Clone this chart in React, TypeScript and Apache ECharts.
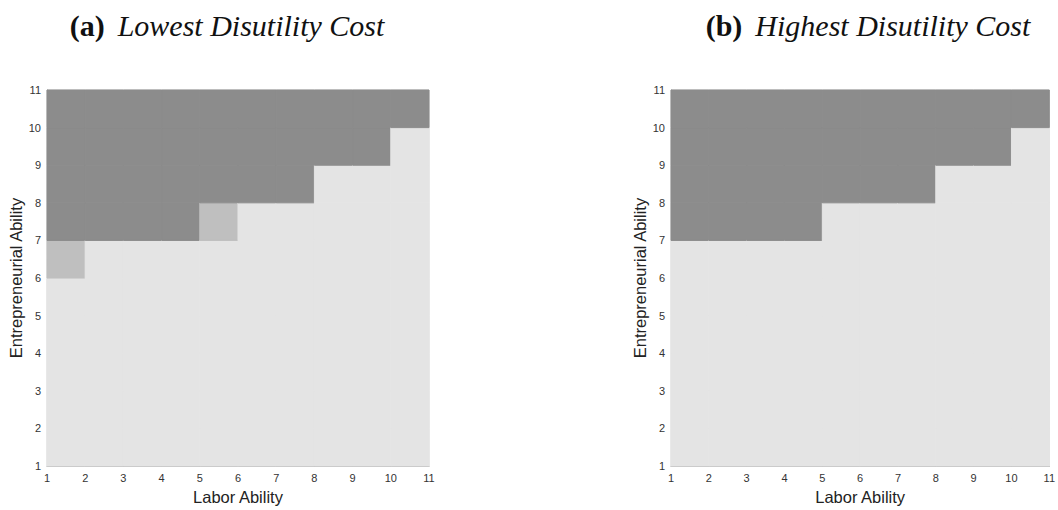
import React, { useEffect, useRef } from "react";
import * as echarts from "echarts";

// Ability grid: cells span [k, k+1] for k = 1..10 on both axes.
const abilityCells = [1, 2, 3, 4, 5, 6, 7, 8, 9, 10];

// Lowest entrepreneurial ability (per labor-ability column) at which the dark regime starts.
const darkFloorLowest = [7, 7, 7, 7, 8, 8, 8, 9, 9, 10];
const darkFloorHighest = [7, 7, 7, 7, 8, 8, 8, 9, 9, 10];

// Cells in the intermediate regime: [labor ability, entrepreneurial ability].
const mixedCellsLowest: [number, number][] = [
  [1, 6],
  [5, 7],
];
const mixedCellsHighest: [number, number][] = [];

const titlesA = { tag: "(a)", text: "Lowest Disutility Cost" };
const titlesB = { tag: "(b)", text: "Highest Disutility Cost" };

const regimeColors = ["#e4e4e4", "#bfbfbf", "#8c8c8c"];

function buildCells(floor: number[], mixed: [number, number][]) {
  const out: number[][] = [];
  abilityCells.forEach((x, i) => {
    abilityCells.forEach((y) => {
      let regime = y >= floor[i] ? 2 : 0;
      if (mixed.some(([mx, my]) => mx === x && my === y)) regime = 1;
      out.push([x, y, regime]);
    });
  });
  return out;
}

const sansFont = "Liberation Sans, Arial, Helvetica, sans-serif";
const serifFont = "Liberation Serif, Times New Roman, serif";

function axisPair(idx: number) {
  const common = {
    type: "value" as const,
    gridIndex: idx,
    min: 1,
    max: 11,
    interval: 1,
    splitLine: { show: false },
    axisTick: { show: false },
    axisLine: { show: true, onZero: false, lineStyle: { color: "#a6a6a6", width: 1 } },
    axisLabel: { fontSize: 11, color: "#333", fontFamily: sansFont },
    nameLocation: "middle" as const,
    nameTextStyle: { fontSize: 16.5, color: "#222", fontFamily: sansFont },
  };
  return {
    x: { ...common, name: "Labor Ability", nameGap: 21, axisLabel: { ...common.axisLabel, margin: 6 } },
    y: { ...common, name: "Entrepreneurial Ability", nameGap: 21, axisLabel: { ...common.axisLabel, margin: 6 } },
  };
}

function renderCell(_params: any, api: any) {
  const x = api.value(0);
  const y = api.value(1);
  const p0 = api.coord([x, y + 1]);
  const p1 = api.coord([x + 1, y]);
  const fill = regimeColors[api.value(2)];
  return {
    type: "rect",
    shape: { x: p0[0], y: p0[1], width: p1[0] - p0[0], height: p1[1] - p0[1] },
    style: { fill, stroke: fill, lineWidth: 1 },
  };
}

export default function App() {
  const ref = useRef<HTMLDivElement>(null);

  useEffect(() => {
    document.body.style.margin = "0";
    if (!ref.current) return;
    const chart = echarts.init(ref.current, undefined, { renderer: "svg" });
    const a = axisPair(0);
    const b = axisPair(1);
    const titleRich = {
      tag: { fontFamily: serifFont, fontWeight: "bold" as const, fontStyle: "normal" as const, fontSize: 30, color: "#111", padding: [0, 8, 0, 0] },
      txt: { fontFamily: serifFont, fontWeight: "normal" as const, fontStyle: "italic" as const, fontSize: 30, color: "#111" },
    };
    chart.setOption({
      animation: false,
      backgroundColor: "#fff",
      title: [
        {
          text: `{tag|${titlesA.tag}} {txt|${titlesA.text}}`,
          left: 222,
          top: 5,
          textAlign: "center",
          textStyle: { fontWeight: "normal", rich: titleRich },
        },
        {
          text: `{tag|${titlesB.tag}} {txt|${titlesB.text}}`,
          left: 863,
          top: 5,
          textAlign: "center",
          textStyle: { fontWeight: "normal", rich: titleRich },
        },
      ],
      grid: [
        { left: 47, top: 90, width: 382, height: 382, show: true, borderColor: "#dcdcdc", borderWidth: 1, backgroundColor: "transparent" },
        { left: 671, top: 90, width: 381, height: 382, show: true, borderColor: "#dcdcdc", borderWidth: 1, backgroundColor: "transparent" },
      ],
      xAxis: [a.x, b.x],
      yAxis: [a.y, b.y],
      series: [
        {
          type: "custom",
          xAxisIndex: 0,
          yAxisIndex: 0,
          renderItem: renderCell,
          data: buildCells(darkFloorLowest, mixedCellsLowest),
          encode: { x: 0, y: 1 },
          z: 1,
        },
        {
          type: "custom",
          xAxisIndex: 1,
          yAxisIndex: 1,
          renderItem: renderCell,
          data: buildCells(darkFloorHighest, mixedCellsHighest),
          encode: { x: 0, y: 1 },
          z: 1,
        },
      ],
    });
    return () => chart.dispose();
  }, []);

  return <div ref={ref} style={{ width: 1058, height: 510 }} />;
}
